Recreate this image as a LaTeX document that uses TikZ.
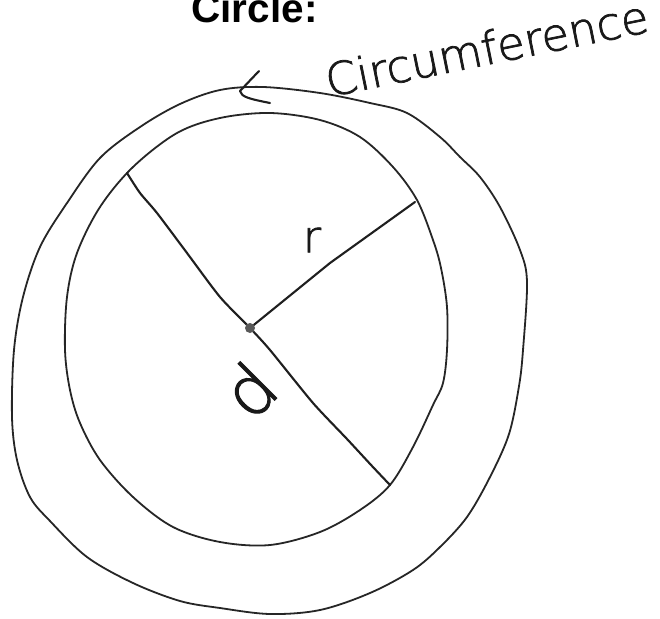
\documentclass[tikz,border=0pt]{standalone}
\usepackage{fontspec}
\newfontfamily\titlefont{Liberation Sans}
\newfontfamily\hand{DejaVu Sans ExtraLight}[FakeBold=1.6]
\tikzset{
  pen/.style={draw=black!85, line width=1.8pt, line cap=round, line join=round},
  boldpen/.style={draw=black!88, line width=2.1pt, line cap=round, line join=round},
  handtext/.style={inner sep=0pt, text=black!90},
}
\begin{document}
\begin{tikzpicture}[x=1pt,y=-1pt]
\useasboundingbox (0,0) rectangle (660,618);
\clip (0,0) rectangle (660,618);
\fill[white] (0,0) rectangle (660,618);

% title
\node[inner sep=0pt, anchor=base, font=\titlefont\bfseries\fontsize{40.5}{44}\selectfont] (title) at (254.5,22.5) {Circle:};

% outer (circumference)
\draw[pen] plot[smooth cycle, tension=0.55] coordinates {
 (220,90) (263,87) (320,93) (370,103) (407,113) (440,137) (460,157) (480,177)
 (500,207) (520,250) (527,282) (523,350) (519,386) (509,434) (490,477) (467,517)
 (440,547) (413,570) (370,593) (320,610) (270,614) (220,608) (180,601) (133,583)
 (87,557) (50,521) (30,497) (17,460) (12,417) (14,350) (23,297) (40,247)
 (67,203) (100,158) (140,127) (180,104)};

% inner circle
\draw[pen] plot[smooth cycle, tension=0.55] coordinates {
 (220,118) (270,113) (320,120) (360,137) (393,167) (417,200) (433,240) (441,268)
 (447,307) (447,350) (443,383) (433,405) (413,447) (390,485) (360,510) (320,532)
 (270,545) (220,542) (173,527) (133,497) (100,460) (80,423) (70,390) (65,350)
 (67,297) (77,253) (100,207) (133,167) (177,133)};

% key points
\coordinate (O) at (250,328);
\coordinate (R) at (415,202);
\coordinate (D1) at (127,173);
\coordinate (D2) at (390,485);

% diameter
\draw[boldpen] plot[smooth, tension=0.4] coordinates {
 (D1) (140,193) (157,213) (187,253) (220,297) (O) (270,350) (313,403)
 (347,439) (372,466) (D2)};
% radius
\draw[boldpen] (O) -- (330,263) -- (R);
% centre dot
\fill[black!65] (O) circle (5pt);

% arrow mark pointing to the circumference
\coordinate (a1) at (259,71);
\coordinate (a2) at (240,91);
\coordinate (a3) at (270,103);
\draw[boldpen] (a1) -- (a2) .. controls (241,97) and (250,99) .. (a3);

% labels
\node[handtext, anchor=base west, rotate=11.5, font=\hand\fontsize{45}{50}\selectfont] (circ) at (329,97) {Circumference};
\node[handtext, font=\hand\fontsize{44}{48}\selectfont] (r) at (312,240) {r};
\node[handtext, rotate=45, font=\hand\fontsize{68}{72}\selectfont] (d) at (249,390) {d};
\end{tikzpicture}
\end{document}
